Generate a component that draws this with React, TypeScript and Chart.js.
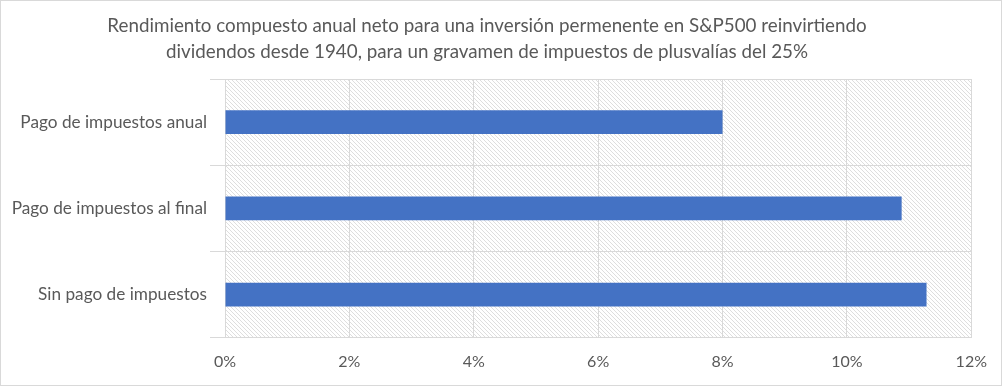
import React, { useEffect, useRef } from 'react';
import { Chart, registerables } from 'chart.js';

Chart.register(...registerables);

const categories = [
  'Pago de impuestos anual',
  'Pago de impuestos al final',
  'Sin pago de impuestos',
];
const values = [8.0, 10.88, 11.28];
const xTickMin = 0;
const xTickMax = 12;
const xTickStep = 2;
const titleLines = [
  'Rendimiento compuesto anual neto para una inversión permenente en S&P500 reinvirtiendo',
  'dividendos desde 1940, para un gravamen de impuestos de plusvalías del 25%',
];

const FONT = 'Lato, "Open Sans", sans-serif';
const TEXT = '#595959';
const GRID = '#d9d9d9';

function makeHatch(ctx: CanvasRenderingContext2D) {
  const c = document.createElement('canvas');
  c.width = 4;
  c.height = 4;
  const g = c.getContext('2d')!;
  g.fillStyle = '#ffffff';
  g.fillRect(0, 0, 4, 4);
  g.fillStyle = '#dedede';
  for (let i = 0; i < 4; i++) g.fillRect(i, i, 1, 1);
  return ctx.createPattern(c, 'repeat');
}

const hatchPlugin = {
  id: 'hatchBg',
  beforeDraw(chart: any) {
    const { ctx, chartArea } = chart;
    const p = makeHatch(ctx);
    if (!p) return;
    ctx.save();
    ctx.fillStyle = p;
    ctx.fillRect(chartArea.left, chartArea.top, chartArea.right - chartArea.left, chartArea.bottom - chartArea.top);
    ctx.restore();
  },
};

export default function App() {
  const ref = useRef<HTMLCanvasElement>(null);
  useEffect(() => {
    document.body.style.margin = '0';
    const chart = new Chart(ref.current!, {
      type: 'bar',
      data: {
        labels: categories,
        datasets: [
          {
            data: values,
            backgroundColor: '#4472C4',
            barPercentage: 0.274,
            categoryPercentage: 1,
          },
        ],
      },
      plugins: [hatchPlugin],
      options: {
        indexAxis: 'y',
        animation: false,
        responsive: false,
        maintainAspectRatio: false,
        layout: { padding: { left: 0, right: 28, top: 0, bottom: 0 } },
        plugins: {
          legend: { display: false },
          tooltip: { enabled: false },
          title: {
            display: true,
            text: titleLines,
            color: TEXT,
            font: { family: FONT, size: 18.8, weight: 'normal', lineHeight: 1.383 },
            padding: { top: 12, bottom: 14 },
          },
        },
        scales: {
          x: {
            min: xTickMin,
            max: xTickMax,
            ticks: {
              stepSize: xTickStep,
              callback: (v: any) => v + '%',
              color: TEXT,
              font: { family: FONT, size: 16 },
              padding: 14,
            },
            grid: { color: GRID, drawTicks: false },
            border: { display: false },
          },
          y: {
            afterFit: (s: any) => {
              s.width = 224;
            },
            ticks: {
              color: TEXT,
              font: { family: FONT, size: 17.2 },
              padding: 3,
            },
            grid: { color: GRID, offset: true, tickLength: 15 },
            border: { display: true, color: GRID },
          },
        },
      },
    });
    return () => chart.destroy();
  }, []);
  return (
    <div
      style={{
        position: 'fixed',
        left: 0,
        top: 0,
        width: 1002,
        height: 386,
        boxSizing: 'border-box',
        border: '1px solid #d9d9d9',
        background: '#fff',
      }}
    >
      <canvas ref={ref} width={1000} height={384} style={{ display: 'block' }} />
    </div>
  );
}
